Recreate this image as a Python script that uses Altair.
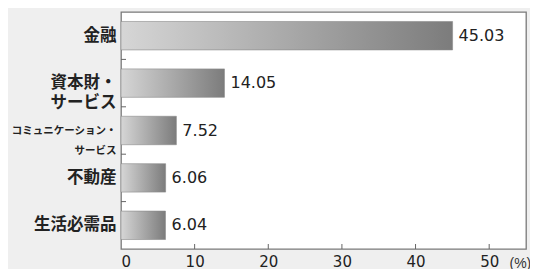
import altair as alt
import pandas as pd

categories = ["金融", "資本財・サービス", "コミュニケーション・サービス", "不動産", "生活必需品"]
values = [45.03, 14.05, 7.52, 6.06, 6.04]
x_ticks = [0, 10, 20, 30, 40, 50]

df = pd.DataFrame({"cat": categories, "val": values})
df["lbl"] = [f"{v:.2f}" for v in values]
xt = pd.DataFrame({"t": x_ticks[1:]})
yt = pd.DataFrame({"cat": categories[1:]})

FONT = "Noto Sans CJK JP"
NUMFONT = "DejaVu Sans"
TICK = "#666666"

y_scale = alt.Scale(domain=categories, paddingInner=0, paddingOuter=0)
x_scale = alt.Scale(domain=[0, 55], nice=False)

y_enc = alt.Y(
    "cat:N",
    sort=categories,
    scale=y_scale,
    axis=alt.Axis(
        title=None,
        ticks=False,
        domain=False,
        grid=False,
        labelPadding=5,
        labelFont=FONT,
        labelFontWeight="bold",
        labelColor="#222222",
        labelFontSize={"condition": {"test": "length(datum.label) > 10", "value": 10.5}, "value": 16.5},
        labelLineHeight=20,
        labelExpr="indexof(datum.label, '・') > 0 ? [substring(datum.label, 0, indexof(datum.label, '・') + 1), substring(datum.label, indexof(datum.label, '・') + 1)] : datum.label",
    ),
)

x_enc = alt.X(
    "val:Q",
    scale=x_scale,
    axis=alt.Axis(
        values=x_ticks,
        title="(%)",
        titleX=388,
        titleY=14,
        titleAlign="left",
        titleBaseline="middle",
        titleFont="Liberation Sans",
        titleFontWeight="normal",
        titleFontSize=14,
        titleColor="#333333",
        ticks=False,
        domain=False,
        grid=False,
        labelFont=NUMFONT,
        labelFontSize=15,
        labelColor="#222222",
        labelPadding=5,
    ),
)

bars = alt.Chart(df).mark_bar(
    height=alt.RelativeBandSize(0.6),
    color=alt.Gradient(
        gradient="linear",
        x1=0, x2=1, y1=0, y2=0,
        stops=[
            alt.GradientStop(color="#d6d6d6", offset=0),
            alt.GradientStop(color="#7c7c7c", offset=1),
        ],
    ),
    stroke="#8a8a8a",
    strokeWidth=0.6,
).encode(x=x_enc, y=y_enc)

labels = alt.Chart(df).mark_text(
    align="left", baseline="middle", dx=6, font=NUMFONT, fontSize=16, color="#222222"
).encode(x=alt.X("val:Q"), y=alt.Y("cat:N", sort=categories), text="lbl:N")

xticks = alt.Chart(xt).mark_rule(color=TICK, strokeWidth=1).encode(
    x=alt.X("t:Q", scale=x_scale), y=alt.value(237), y2=alt.value(232)
)

yticks = alt.Chart(yt).mark_rule(color=TICK, strokeWidth=1).encode(
    y=alt.Y("cat:N", sort=categories, scale=y_scale, bandPosition=0),
    x=alt.value(0),
    x2=alt.value(5),
)

chart = (
    alt.layer(bars, labels, xticks, yticks)
    .properties(
        width=405,
        height=237,
        autosize=alt.AutoSizeParams(type="none"),
        padding={"left": 113, "top": 4, "right": 4, "bottom": 20},
        background="#efefef",
    )
    .configure_view(stroke="#7a7a7a", strokeWidth=1.3, fill="white")
)

chart.save("out.html", embed_options={"renderer": "svg", "actions": False})
